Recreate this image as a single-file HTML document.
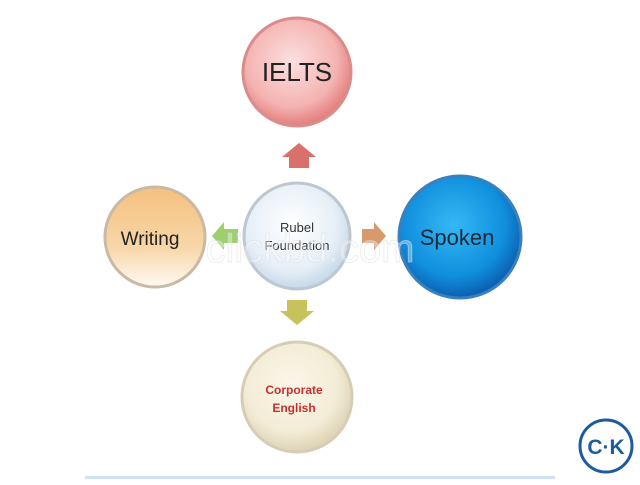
<!DOCTYPE html>
<html><head><meta charset="utf-8"><style>
body{margin:0;width:640px;height:480px;background:#fff;overflow:hidden;font-family:"Liberation Sans",sans-serif}
</style></head><body>
<svg width="640" height="480" viewBox="0 0 640 480" xmlns="http://www.w3.org/2000/svg">
<defs>
<radialGradient id="red" cx="0.45" cy="0.4" r="0.6"><stop offset="0" stop-color="#fbe0df"/><stop offset="0.7" stop-color="#f4b3b1"/><stop offset="1" stop-color="#e27e7c"/></radialGradient>
<linearGradient id="org" x1="0" y1="0" x2="0" y2="1"><stop offset="0" stop-color="#f5c07e"/><stop offset="0.6" stop-color="#f7d6a8"/><stop offset="1" stop-color="#fffaf2"/></linearGradient>
<radialGradient id="cen" cx="0.45" cy="0.4" r="0.6"><stop offset="0" stop-color="#ffffff"/><stop offset="0.7" stop-color="#e6eff7"/><stop offset="1" stop-color="#c6d8e8"/></radialGradient>
<radialGradient id="blu" cx="0.45" cy="0.4" r="0.6"><stop offset="0" stop-color="#35b8f5"/><stop offset="0.7" stop-color="#108fdc"/><stop offset="1" stop-color="#0a5fb0"/></radialGradient>
<radialGradient id="crm" cx="0.45" cy="0.4" r="0.6"><stop offset="0" stop-color="#fbf6ea"/><stop offset="0.7" stop-color="#f3ecd5"/><stop offset="1" stop-color="#ddd2b4"/></radialGradient>
</defs>
<g stroke="#c8c8c8" stroke-width="3">
<circle cx="297" cy="72" r="54" fill="url(#red)" stroke="#d98c8a"/>
<circle cx="155" cy="237" r="50" fill="url(#org)" stroke="#c9b9a5"/>
<circle cx="297" cy="236" r="53" fill="url(#cen)" stroke="#bcc7d2"/>
<circle cx="460" cy="237" r="61" fill="url(#blu)" stroke="#3a7fbf"/>
<circle cx="297" cy="397" r="55" fill="url(#crm)" stroke="#d6cdb6"/>
</g>
<polygon points="299,143 316,157 309,157 309,168 289,168 289,157 282,157" fill="#d9706c"/>
<polygon points="386,236 374,222 374,229 362,229 362,243 374,243 374,250" fill="#d99a6b"/>
<polygon points="212,236 224,222 224,229 238,229 238,243 224,243 224,250" fill="#9fce6f"/>
<polygon points="297,325 314,311 307,311 307,300 287,300 287,311 280,311" fill="#c8c25a"/>
<text x="297" y="81" font-size="26" text-anchor="middle" fill="#222">IELTS</text>
<text x="150" y="245" font-size="19" text-anchor="middle" fill="#222">Writing</text>
<text x="297" y="232" font-size="13" text-anchor="middle" fill="#333">Rubel</text>
<text x="297" y="250" font-size="13" text-anchor="middle" fill="#333">Foundation</text>
<text x="457" y="245" font-size="22" text-anchor="middle" fill="#1a2a3a">Spoken</text>
<text x="294" y="394" font-size="12" font-weight="bold" text-anchor="middle" fill="#c83030">Corporate</text>
<text x="294" y="412" font-size="12" font-weight="bold" text-anchor="middle" fill="#c83030">English</text>
<text x="310" y="262" font-size="40" text-anchor="middle" fill="#fff" fill-opacity="0.35" stroke="#ddd" stroke-opacity="0.5">clickbd.com</text>
<rect x="85" y="476" width="470" height="3" fill="#cfe0f2"/>
<circle cx="606" cy="446" r="26" fill="#fff" stroke="#1c5c9c" stroke-width="3"/>
<text x="606" y="454" font-size="21" font-weight="bold" text-anchor="middle" fill="#1c5c9c">C·K</text>
</svg>
</body></html>
